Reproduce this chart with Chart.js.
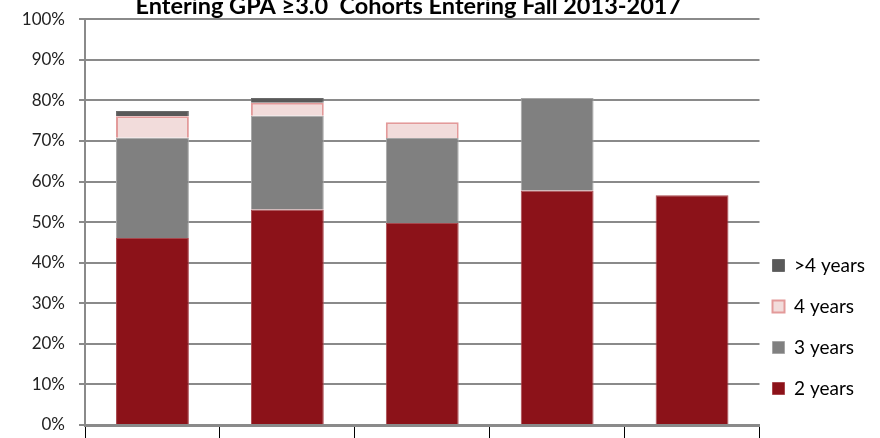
<!DOCTYPE html>
<html>
<head>
<meta charset="utf-8">
<script src="https://cdn.jsdelivr.net/npm/chart.js@4/dist/chart.umd.min.js"></script>
<style>
  html, body { margin: 0; padding: 0; background: #fff; overflow: hidden; }
  #wrap { position: absolute; left: 0; top: -5px; width: 880px; height: 480px; }
</style>
</head>
<body>
<div id="wrap"><canvas id="myChart" width="880" height="480"></canvas></div>
<script>
var cohorts = ['Fall 2013', 'Fall 2014', 'Fall 2015', 'Fall 2016', 'Fall 2017'];
var twoYears = [46.1, 53.1, 49.8, 57.8, 56.6];
var threeYears = [24.7, 23.1, 20.9, 22.8, 0];
var fourYears = [5.3, 3.2, 3.9, 0, 0];
var overFourYears = [1.3, 1.2, 0, 0, 0];
var yTicks = ['0%', '10%', '20%', '30%', '40%', '50%', '60%', '70%', '80%', '90%', '100%'];

var gridColor = '#8a8a8a';
var fontName = 'Lato';

// nudges legend and title to where the original sits
var nudge = {
  id: 'nudge',
  afterLayout: function (chart) {
    chart.legend.left -= 9;
    chart.legend.right -= 9;
    chart.legend.top -= 5;
    chart.legend.bottom -= 5;
    chart.titleBlock.left -= 14;
    chart.titleBlock.right -= 14;
  }
};

var ctx = document.getElementById('myChart');
var myChart = new Chart(ctx, {
  type: 'bar',
  data: {
    labels: cohorts,
    datasets: [{
      label: '2 years',
      data: twoYears,
      backgroundColor: '#8c1219',
      borderColor: '#a8474d',
      borderWidth: 1
    }, {
      label: '3 years',
      data: threeYears,
      backgroundColor: '#808080',
      borderColor: '#a6a6a6',
      borderWidth: 1
    }, {
      label: '4 years',
      data: fourYears,
      backgroundColor: '#f2dcdb',
      borderColor: '#e39a9a',
      borderWidth: 2
    }, {
      label: '>4 years',
      data: overFourYears,
      backgroundColor: '#595959',
      borderColor: '#6a6a6a',
      borderWidth: 1
    }]
  },
  options: {
    responsive: false,
    animation: false,
    events: [],
    layout: { padding: { left: 0, right: -4, top: 0, bottom: 0 } },
    categoryPercentage: 0.54,
    barPercentage: 1,
    plugins: {
      title: {
        display: true,
        text: 'Entering GPA \u22653.0  Cohorts Entering Fall 2013-2017',
        fullSize: false,
        color: '#000',
        font: { family: fontName, size: 23.5, weight: 'bold', lineHeight: 1 },
        padding: { top: -3, bottom: 1.5 }
      },
      legend: {
        display: true,
        position: 'right',
        align: 'end',
        fullSize: false,
        reverse: true,
        labels: {
          color: '#000',
          font: { family: fontName, size: 19 },
          boxWidth: 12,
          boxHeight: 12,
          padding: 22
        }
      },
      tooltip: { enabled: false }
    },
    scales: {
      x: {
        stacked: true,
        grid: {
          offset: true,
          drawOnChartArea: false,
          drawTicks: true,
          tickLength: 16,
          tickColor: '#000',
          lineWidth: 1
        },
        border: { color: gridColor, width: 3 },
        ticks: {
          color: '#555',
          font: { family: fontName, size: 17 },
          padding: -6
        },
        afterFit: function (scale) { scale.height = 50; }
      },
      y: {
        stacked: true,
        min: 0,
        max: 100,
        grid: {
          color: gridColor,
          lineWidth: 2,
          tickLength: 6,
          tickColor: gridColor
        },
        border: { color: gridColor, width: 2 },
        ticks: {
          stepSize: 10,
          color: '#222',
          font: { family: fontName, size: 17 },
          padding: 14,
          callback: function (v, i) { return yTicks[i]; }
        },
        afterFit: function (scale) { scale.width = 85; }
      }
    }
  },
  plugins: [nudge]
});
</script>
</body>
</html>
